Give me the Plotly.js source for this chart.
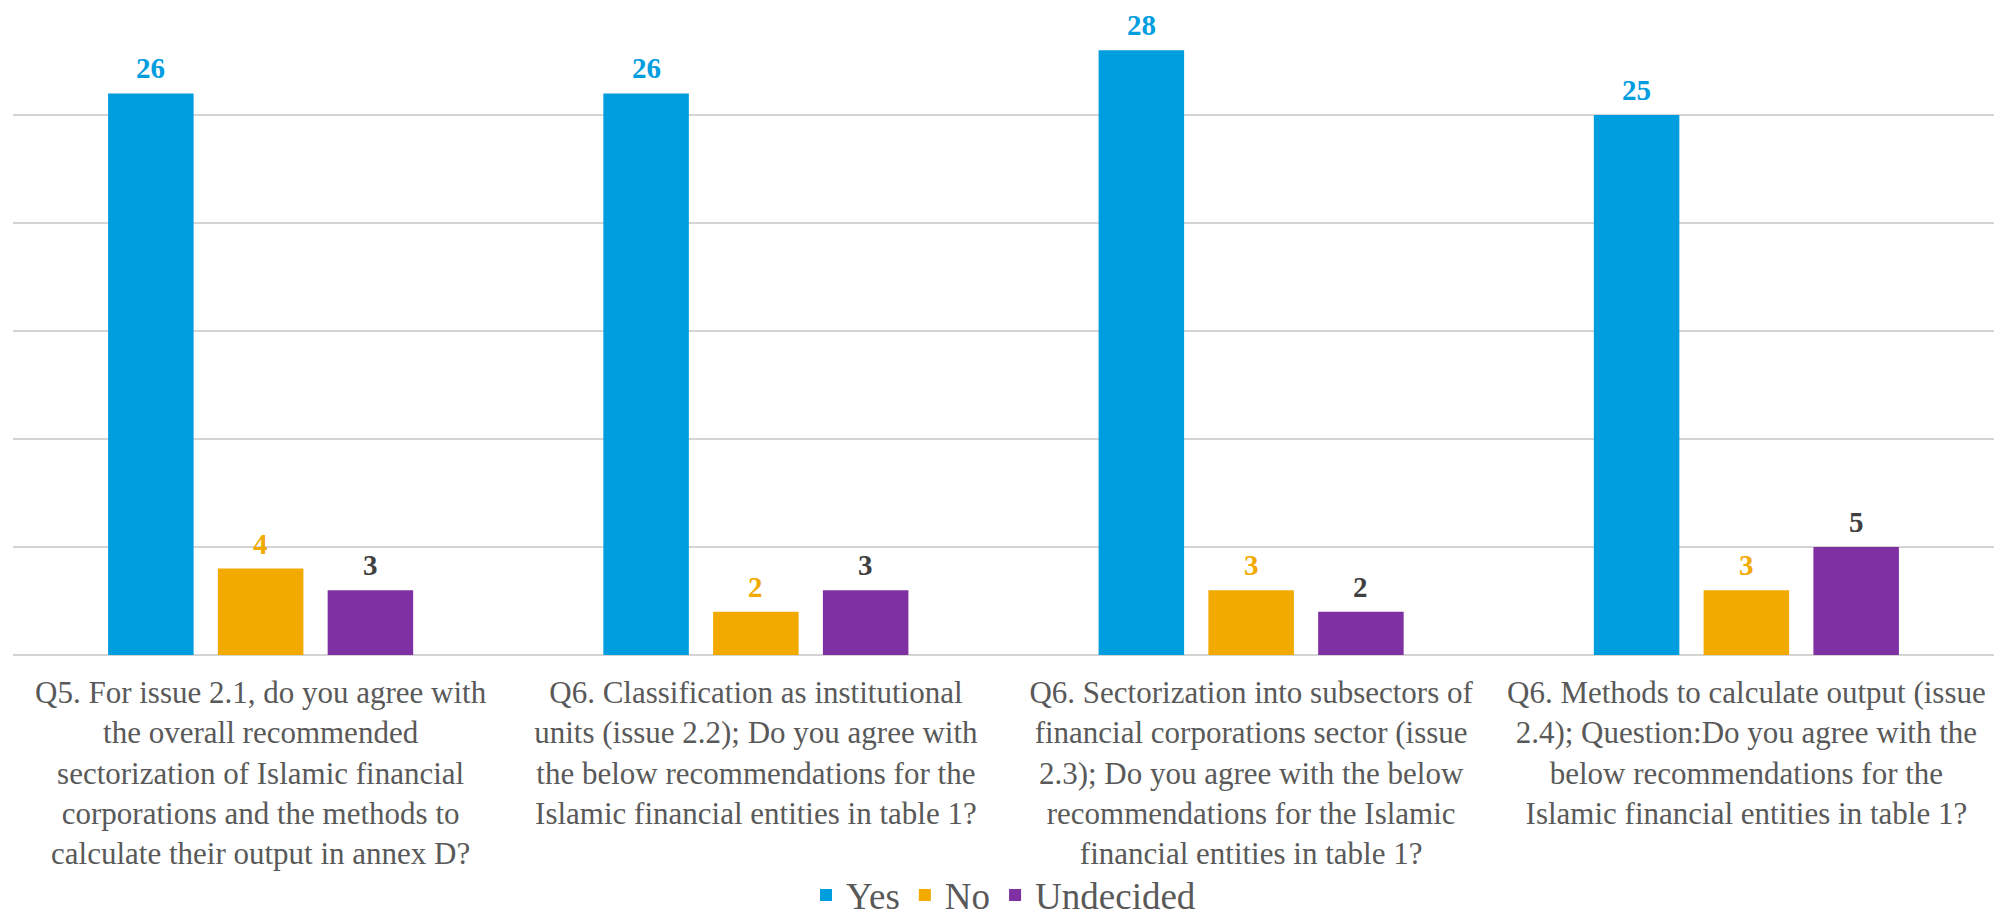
<!DOCTYPE html>
<html>
<head>
<meta charset="utf-8">
<script src="https://cdn.plot.ly/plotly-3.0.1.min.js"></script>
<style>html,body{margin:0;padding:0;background:#fff;}#chart{width:2002px;height:919px;}</style>
</head>
<body>
<div id="chart"></div>
<script>
const categories = [
  "Q5. For issue 2.1, do you agree with<br>the overall recommended<br>sectorization of Islamic financial<br>corporations and the methods to<br>calculate their output in annex D?",
  "Q6. Classification as institutional<br>units (issue 2.2); Do you agree with<br>the below recommendations for the<br>Islamic financial entities in table 1?",
  "Q6. Sectorization into subsectors of<br>financial corporations sector (issue<br>2.3); Do you agree with the below<br>recommendations for the Islamic<br>financial entities in table 1?",
  "Q6. Methods to calculate output (issue<br>2.4); Question:Do you agree with the<br>below recommendations for the<br>Islamic financial entities in table 1?"
];
const seriesNames = ["Yes", "No", "Undecided"];
const yesValues = [26, 26, 28, 25];
const noValues = [4, 2, 3, 3];
const undecidedValues = [3, 3, 2, 5];

const colors = ["#009ddf", "#f2a900", "#7f30a3"];
const labelColors = ["#009ddf", "#f2a900", "#404040"];
const allValues = [yesValues, noValues, undecidedValues];
const serif = "Liberation Serif";

const bargap = 0.335;
const traces = allValues.map((vals, k) => ({
  type: "bar",
  name: seriesNames[k],
  x: categories,
  y: vals,
  marker: {color: colors[k]},
  hoverinfo: "skip"
}));

const slot = (1 - bargap) / allValues.length;
const annotations = [];
allValues.forEach((vals, k) => {
  vals.forEach((v, i) => {
    annotations.push({
      xref: "x", yref: "y",
      x: i + (k - (allValues.length - 1) / 2) * slot,
      y: v,
      text: "<b>" + v + "</b>",
      showarrow: false,
      yanchor: "middle",
      yshift: 25,
      font: {family: serif, size: 29, color: labelColors[k]}
    });
  });
});

const layout = {
  width: 2002, height: 919,
  margin: {l: 13, r: 8, t: 7, b: 264, autoexpand: false},
  paper_bgcolor: "#ffffff",
  plot_bgcolor: "#ffffff",
  barmode: "group",
  bargap: bargap,
  bargroupgap: 0.221,
  font: {family: serif, color: "#595959"},
  xaxis: {
    type: "category",
    showgrid: false,
    showline: false,
    zeroline: false,
    ticks: "",
    ticklabelstandoff: 16,
    tickfont: {family: serif, size: 31, color: "#595959"},
    automargin: false
  },
  yaxis: {
    range: [0, 30],
    dtick: 5,
    showticklabels: false,
    showgrid: true,
    gridcolor: "#d4d4d4",
    gridwidth: 1.4,
    zeroline: true,
    zerolinecolor: "#d4d4d4",
    zerolinewidth: 1.8,
    showline: false,
    automargin: false
  },
  showlegend: true,
  legend: {
    orientation: "h",
    x: 0.5, xanchor: "center",
    y: -0.371, yanchor: "middle",
    bgcolor: "rgba(0,0,0,0)",
    font: {family: serif, size: 37, color: "#595959"},
    itemclick: false
  },
  annotations: annotations
};

Plotly.newPlot("chart", traces, layout, {displayModeBar: false, staticPlot: true});
</script>
</body>
</html>
